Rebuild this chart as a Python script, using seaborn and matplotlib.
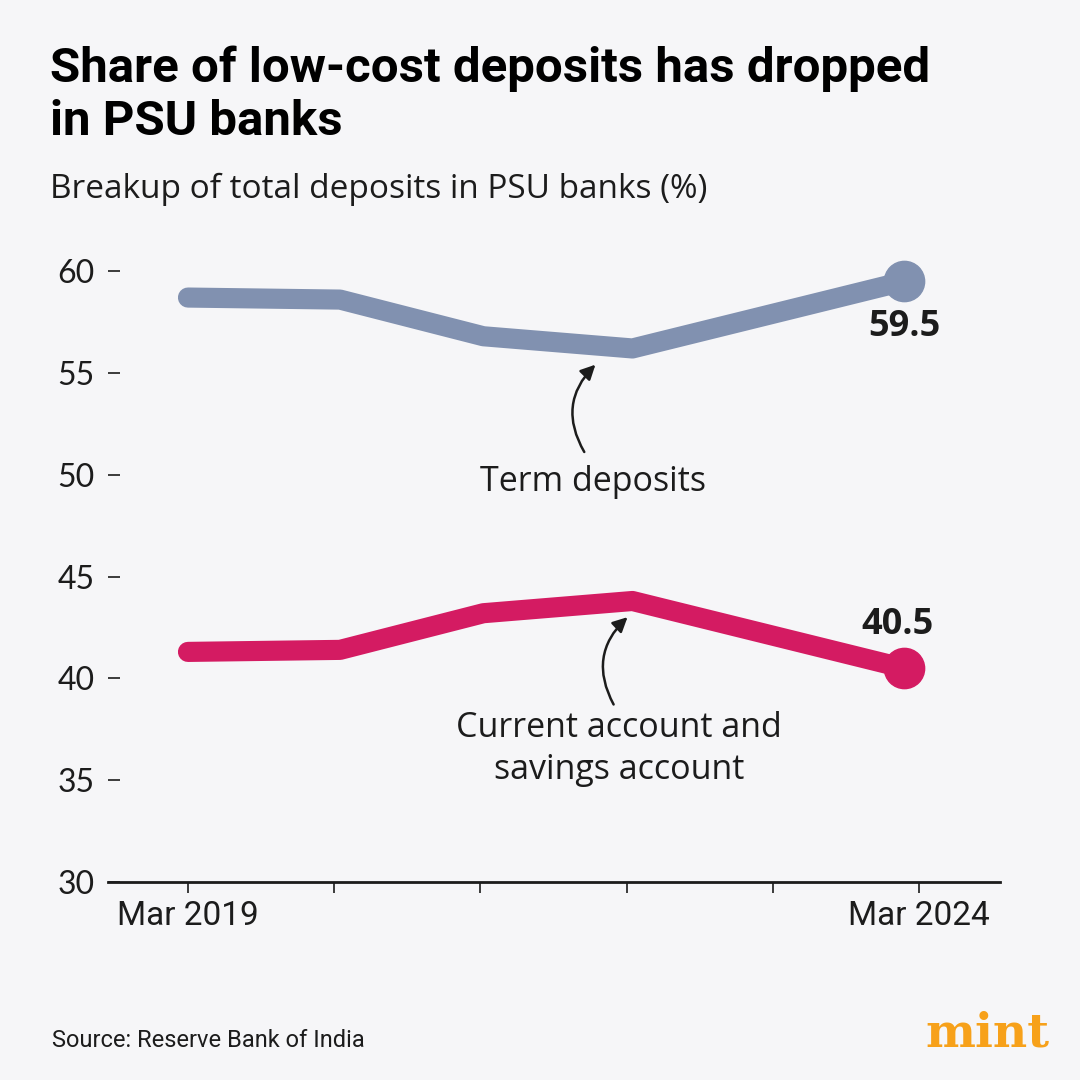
import matplotlib.pyplot as plt
import seaborn as sns
import pandas as pd

# values (share of total deposits, %)
periods = [2019.0, 2020.04, 2021.02, 2022.04, 2023.9]
term_deposits = [58.7, 58.6, 56.8, 56.2, 59.5]
casa = [41.3, 41.4, 43.2, 43.8, 40.5]
tick_years = [2019, 2020, 2021, 2022, 2023, 2024]
tick_labels = ["Mar 2019", "", "", "", "", "Mar 2024"]
y_ticks = [30, 35, 40, 45, 50, 55, 60]

BG = "#f6f6f8"
INK = "#1c1c1c"
TERM_COL = "#8191b0"
CASA_COL = "#d41b62"

sns.set_theme(style="white")
plt.rcParams["font.family"] = ["Open Sans", "DejaVu Sans"]

df = pd.DataFrame({"period": periods, "term": term_deposits, "casa": casa})

fig = plt.figure(figsize=(10.8, 10.8), dpi=100, facecolor=BG)
ax = fig.add_axes([0.1, 0.1833, 0.826, 0.5657])
ax.set_facecolor(BG)

sns.lineplot(data=df, x="period", y="term", ax=ax, color=TERM_COL, lw=14.5,
             solid_capstyle="round", clip_on=False)
sns.lineplot(data=df, x="period", y="casa", ax=ax, color=CASA_COL, lw=14.5,
             solid_capstyle="round", clip_on=False)

# end markers + value labels
ax.plot(df["period"].iloc[-1], df["term"].iloc[-1], "o", ms=29, color=TERM_COL, clip_on=False)
ax.plot(df["period"].iloc[-1], df["casa"].iloc[-1], "o", ms=29, color=CASA_COL, clip_on=False)
ax.annotate(f"{term_deposits[-1]}", (periods[-1], term_deposits[-1]), xytext=(0, -33),
            textcoords="offset points", ha="center", va="center", fontsize=26,
            fontweight="bold", color=INK)
ax.annotate(f"{casa[-1]}", (periods[-1], casa[-1]), xytext=(-5, 31),
            textcoords="offset points", ha="center", va="center", fontsize=26,
            fontweight="bold", color=INK)

# series labels with curved arrows
ax.text(2021.77, 49.64, "Term deposits", ha="center", va="center", fontsize=24.5, color=INK)
ax.annotate("", xy=(2021.80, 55.5), xytext=(2021.72, 51.0),
            arrowprops=dict(arrowstyle="-|>", color=INK, lw=1.8,
                            connectionstyle="arc3,rad=-0.4", mutation_scale=22))
ax.text(2021.95, 36.55, "Current account and\nsavings account", ha="center", va="center",
        fontsize=24.5, color=INK, linespacing=1.3)
ax.annotate("", xy=(2022.02, 43.1), xytext=(2021.92, 38.6),
            arrowprops=dict(arrowstyle="-|>", color=INK, lw=1.8,
                            connectionstyle="arc3,rad=-0.4", mutation_scale=22))

ax.set_xlim(2018.453, 2024.554)
ax.set_ylim(30, 60)
ax.set_yticks(y_ticks)
ax.set_yticklabels([str(v) for v in y_ticks], fontsize=23, color=INK, family=["Lato", "DejaVu Sans"])
ax.set_xticks(tick_years)
ax.set_xticklabels(tick_labels, fontsize=24, color=INK, family=["Roboto", "DejaVu Sans"])
ax.tick_params(axis="y", direction="in", length=8.5, width=1.2, color=INK, pad=9.5, left=True)
ax.tick_params(axis="x", direction="out", length=8, width=1.2, color=INK, pad=5, bottom=True)
ax.set_xlabel("")
ax.set_ylabel("")
for s in ["top", "right", "left"]:
    ax.spines[s].set_visible(False)
ax.spines["bottom"].set_color(INK)
ax.spines["bottom"].set_linewidth(2)

fig.text(0.046, 0.958, "Share of low-cost deposits has dropped\nin PSU banks", ha="left", va="top",
         fontsize=35.5, fontweight="bold", color="#000000", linespacing=1.2,
         family=["Roboto", "DejaVu Sans"])
fig.text(0.046, 0.825, "Breakup of total deposits in PSU banks (%)", ha="left", va="center",
         fontsize=24, color=INK)
fig.text(0.048, 0.037, "Source: Reserve Bank of India", ha="left", va="center", fontsize=17,
         color=INK, family=["Roboto", "DejaVu Sans"])
fig.text(0.972, 0.043, "mint", ha="right", va="center", fontsize=34, fontweight="bold",
         color="#f7a11a", family=["DejaVu Serif"])

fig.savefig("out.png", dpi=100, facecolor=BG)
